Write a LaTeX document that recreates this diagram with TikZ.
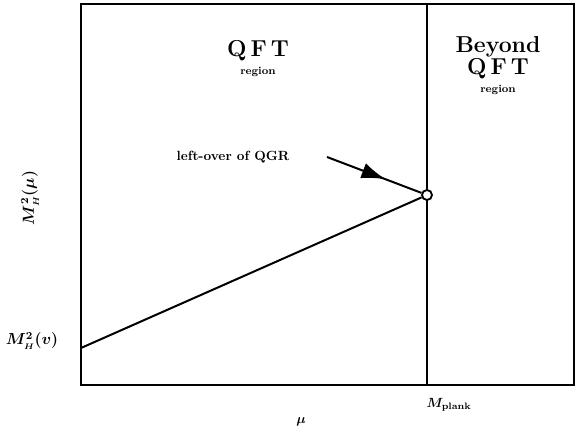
\documentclass[tikz,border=0pt]{standalone}
\usepackage{amsmath}
\usetikzlibrary{arrows.meta}
\usetikzlibrary{decorations.markings}
\tikzset{
  lbl/.style = {align=center, inner sep=0pt, text centered,
    font=\bfseries\boldmath},
  big_t/.style = {lbl, font=\LARGE\bfseries},% titre de region
  small_t/.style = {lbl, font=\footnotesize\bfseries},% sous-titre
  note_t/.style = {lbl, font=\normalsize\bfseries},% annotation
  axis_t/.style = {lbl, font=\large\bfseries\boldmath},% axes
  hit_n/.style = {circle, draw=black, fill=white, line width=1.4pt,
    inner sep=0pt, minimum size=7.5pt},% point de rencontre
  midarrow/.style = {decoration={markings,
    mark=at position 0.62 with {\arrow{Latex[length=18pt,width=12pt]}}},
    postaction={decorate}},
}
\newcommand{\wideqft}{Q\kern3pt F\kern3pt T}

\begin{document}
\begin{tikzpicture}[x=0.75pt,y=-0.75pt]
\useasboundingbox (0,0) rectangle (575,431);

% cadre
\coordinate (nw) at (81,4);
\coordinate (se) at (574,385);
\coordinate (v0) at (81,348);
\coordinate (ptop) at (427,4);
\coordinate (pbot) at (427,385);
\coordinate (qgr) at (327,157);
\draw[line width=1pt] (nw) rectangle (se);
\draw[line width=2.2pt] (ptop) -- (pbot);

\node [hit_n] (hit) at (427,195) {};
\draw[line width=1.5pt] (v0) -- (hit);
\draw[line width=1.5pt, midarrow] (qgr) -- (hit);

% textes
\node [big_t] (qft) at (258,51) {\wideqft};
\node [small_t] (qftreg) at (258,72) {region};
\node [big_t] (beyond) at (498,47) {Beyond};
\node [big_t] (bqft) at (498,69) {\wideqft};
\node [small_t] (breg) at (498,90) {region};
\node [note_t] (left) at (233,157) {left-over of QGR};

\node [axis_t, rotate=90] (ylab) at (30,198) {$M_{\scriptscriptstyle H}^2(\mu)$};
\node [axis_t] (vlab) at (32,341) {$M_{\scriptscriptstyle H}^2(v)$};
\node [lbl] (plank) at (449,405) {$M_{\textbf{plank}}$};
\node [lbl] (mu) at (301,422) {$\mu$};
\end{tikzpicture}
\end{document}
